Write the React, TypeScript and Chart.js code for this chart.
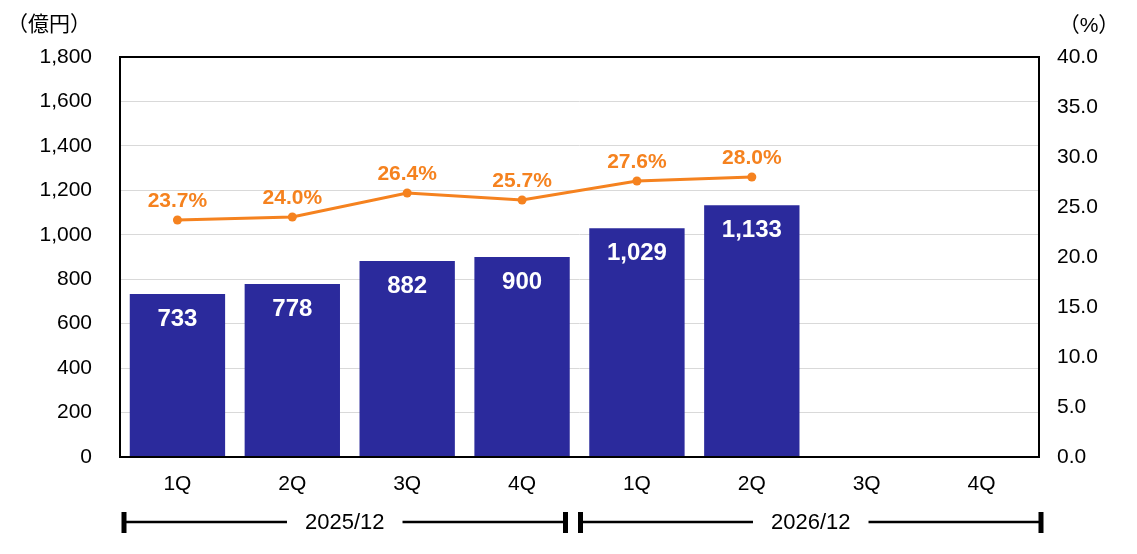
import React, { useEffect, useRef } from 'react';
import { Chart, registerables } from 'chart.js';

Chart.register(...registerables);

// ---- data ----
const categories = ['1Q', '2Q', '3Q', '4Q', '1Q', '2Q', '3Q', '4Q'];
const salesValues: (number | null)[] = [733, 778, 882, 900, 1029, 1133, null, null];
const marginValues: (number | null)[] = [23.7, 24.0, 26.4, 25.7, 27.6, 28.0, null, null];
const groupLabels = ['2025/12', '2026/12'];
const groupStarts = [0, 4];
const groupEnds = [3, 7];
const leftAxisTitle = '（億円）';
const rightAxisTitle = '（%）';

// ---- style ----
const FONT = "'Liberation Sans', Arial, 'Noto Sans CJK JP', sans-serif";
const BAR_COLOR = '#2B2A9C';
const LINE_COLOR = '#F5821F';
const capInsetLeft = [4, 1];
const capInsetRight = [-14, 2];

const overlayPlugin = {
  id: 'overlay',
  afterDatasetsDraw(chart: any) {
    const { ctx, chartArea: a } = chart;
    ctx.save();
    ctx.strokeStyle = '#000';
    ctx.lineWidth = 2;
    ctx.strokeRect(a.left, a.top, a.right - a.left, a.bottom - a.top);

    ctx.textAlign = 'center';
    ctx.textBaseline = 'middle';
    ctx.font = `bold 24px ${FONT}`;
    ctx.fillStyle = '#fff';
    chart.getDatasetMeta(0).data.forEach((el: any, i: number) => {
      const v = salesValues[i];
      if (v == null) return;
      ctx.fillText(v.toLocaleString('en-US'), el.x, el.y + 25);
    });
    ctx.font = `bold 21px ${FONT}`;
    ctx.fillStyle = LINE_COLOR;
    chart.getDatasetMeta(1).data.forEach((el: any, i: number) => {
      const v = marginValues[i];
      if (v == null) return;
      ctx.fillText(v.toFixed(1) + '%', el.x, el.y - 19);
    });
    ctx.restore();
  },
  afterDraw(chart: any) {
    const { ctx } = chart;
    const xs = chart.scales.x;
    ctx.save();
    ctx.fillStyle = '#000';
    ctx.textAlign = 'center';
    ctx.textBaseline = 'middle';
    ctx.font = `21px ${FONT}`;
    ctx.fillText(leftAxisTitle, 49, 25);
    ctx.fillText(rightAxisTitle, 1089, 26);

    const catW = (xs.right - xs.left) / categories.length;
    const y = chart.height - 32;
    ctx.font = `22px ${FONT}`;
    ctx.strokeStyle = '#000';
    ctx.lineWidth = 2.5;
    groupLabels.forEach((label, gi) => {
      const x0 = xs.getPixelForValue(groupStarts[gi]) - catW / 2 + capInsetLeft[gi];
      const x1 = xs.getPixelForValue(groupEnds[gi]) + catW / 2 + capInsetRight[gi];
      const mid = (x0 + x1) / 2;
      const tw = ctx.measureText(label).width;
      ctx.beginPath();
      ctx.moveTo(x0, y);
      ctx.lineTo(mid - tw / 2 - 18, y);
      ctx.moveTo(mid + tw / 2 + 18, y);
      ctx.lineTo(x1, y);
      ctx.stroke();
      ctx.fillRect(x0 - 2.5, y - 10, 5, 21);
      ctx.fillRect(x1 - 2.5, y - 10, 5, 21);
      ctx.fillText(label, mid, y + 1);
    });
    ctx.restore();
  },
};

export default function App() {
  const ref = useRef<HTMLCanvasElement>(null);
  useEffect(() => {
    if (!ref.current) return;
    Chart.defaults.font.family = FONT;
    Chart.defaults.color = '#000';
    const chart = new Chart(ref.current, {
      type: 'bar',
      data: {
        labels: categories,
        datasets: [
          {
            type: 'bar',
            data: salesValues,
            backgroundColor: BAR_COLOR,
            barPercentage: 0.83,
            categoryPercentage: 1.0,
            yAxisID: 'y',
            order: 1,
          },
          {
            type: 'line',
            data: marginValues,
            borderColor: LINE_COLOR,
            backgroundColor: LINE_COLOR,
            borderWidth: 3,
            pointRadius: 4.5,
            pointBackgroundColor: LINE_COLOR,
            pointBorderWidth: 0,
            yAxisID: 'y1',
            order: 0,
          },
        ] as any,
      },
      options: {
        animation: false,
        responsive: true,
        maintainAspectRatio: false,
        layout: { padding: { top: 57, left: 0, right: 0, bottom: 0 } },
        plugins: { legend: { display: false }, tooltip: { enabled: false } },
        scales: {
          x: {
            grid: { display: false, drawTicks: false, tickLength: 0 },
            border: { display: false },
            ticks: { font: { size: 21 }, color: '#000', padding: 15 },
            afterFit: (s: any) => { s.height = 97; },
          },
          y: {
            position: 'left',
            min: 0,
            max: 1800,
            grid: { color: '#d9d9d9', drawTicks: false, tickLength: 0 },
            border: { display: false },
            ticks: {
              stepSize: 200,
              font: { size: 21 },
              color: '#000',
              padding: 28,
              callback: (v: any) => Number(v).toLocaleString('en-US'),
            },
            afterFit: (s: any) => { s.width = 120; },
          },
          y1: {
            position: 'right',
            min: 0,
            max: 40,
            grid: { display: false, drawTicks: false, tickLength: 0 },
            border: { display: false },
            ticks: {
              stepSize: 5,
              font: { size: 21 },
              color: '#000',
              padding: 18,
              callback: (v: any) => Number(v).toFixed(1),
            },
            afterFit: (s: any) => { s.width = 98; },
          },
        },
      } as any,
      plugins: [overlayPlugin],
    });
    return () => chart.destroy();
  }, []);
  return (
    <div style={{ position: 'fixed', left: 0, top: 0, width: 1137, height: 554, background: '#fff' }}>
      <canvas ref={ref} />
    </div>
  );
}
